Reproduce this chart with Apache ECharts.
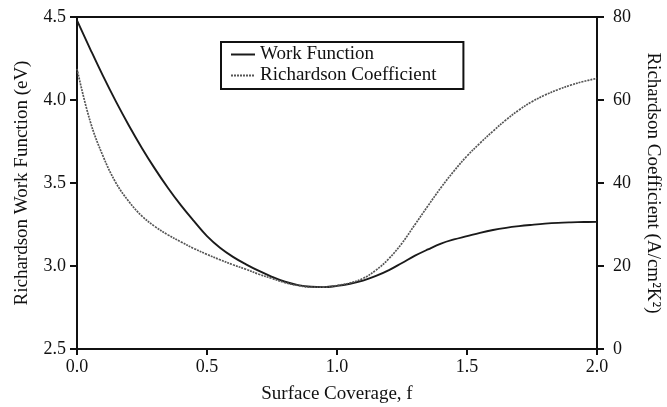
<!DOCTYPE html>
<html>
<head>
<meta charset="utf-8">
<script src="https://cdn.jsdelivr.net/npm/echarts@6/dist/echarts.min.js"></script>
<style>html,body{margin:0;padding:0;background:#fff;}#c{width:667px;height:407px;}</style>
</head>
<body>
<div id="c"></div>
<script>
var coverage = [0,0.05,0.1,0.15,0.2,0.25,0.3,0.35,0.4,0.45,0.5,0.55,0.6,0.65,0.7,0.75,0.8,0.85,0.9,0.95,1.0,1.05,1.1,1.15,1.2,1.25,1.3,1.35,1.4,1.45,1.5,1.55,1.6,1.65,1.7,1.75,1.8,1.85,1.9,1.95,2.0];
var workFunction = [4.48,4.31,4.145,3.99,3.845,3.71,3.585,3.47,3.365,3.27,3.18,3.11,3.055,3.01,2.97,2.935,2.905,2.885,2.875,2.873,2.88,2.893,2.912,2.94,2.975,3.018,3.062,3.10,3.135,3.16,3.18,3.20,3.217,3.23,3.24,3.248,3.255,3.26,3.263,3.265,3.266];
var richardson = [67.5,55,46.5,40,35.5,32,29.5,27.5,25.8,24.2,22.8,21.5,20.3,19.2,18.0,17.0,16.0,15.3,14.9,14.9,15.3,15.9,17.0,19.0,21.8,25.5,30,34.5,38.9,42.9,46.5,49.6,52.5,55.2,57.6,59.6,61.2,62.5,63.6,64.5,65.2];
var leftTicks = {min:2.5, max:4.5, interval:0.5};
var rightTicks = {min:0, max:80, interval:20};
var xTicks = {min:0, max:2, interval:0.5};

var font = 'Liberation Serif';
var wfData = coverage.map(function(f,i){return [f, workFunction[i]];});
var rcData = coverage.map(function(f,i){return [f, richardson[i]];});

var chart = echarts.init(document.getElementById('c'), null, {renderer:'canvas'});
chart.setOption({
  backgroundColor:'#fff',
  animation:false,
  textStyle:{fontFamily:font, color:'#111'},
  grid:{left:77, right:70, top:17, bottom:58, outerBoundsMode:'none', containLabel:false, show:true, borderColor:'#111', borderWidth:2, backgroundColor:'transparent'},
  legend:{
    left:221, top:42, orient:'vertical',
    data:['Work Function','Richardson Coefficient'],
    borderColor:'#111', borderWidth:2, borderRadius:0,
    padding:[3,27,4,9], itemGap:2, itemWidth:24, itemHeight:14,
    itemStyle:{opacity:0},
    textStyle:{fontFamily:font, fontSize:19, color:'#111'}
  },
  xAxis:{
    type:'value', min:xTicks.min, max:xTicks.max, interval:xTicks.interval,
    name:'Surface Coverage, f', nameLocation:'middle', nameGap:36,
    nameTextStyle:{fontFamily:font, fontSize:19, color:'#111'},
    axisLine:{show:true, lineStyle:{color:'#111', width:2}},
    axisTick:{show:true, length:6, lineStyle:{color:'#111', width:2}},
    axisLabel:{fontFamily:font, fontSize:18, color:'#111', margin:9, formatter:function(v){return v.toFixed(1);}},
    splitLine:{show:false}
  },
  yAxis:[{
    type:'value', position:'left', min:leftTicks.min, max:leftTicks.max, interval:leftTicks.interval,
    name:'Richardson Work Function (eV)', nameLocation:'middle', nameGap:45,
    nameTextStyle:{fontFamily:font, fontSize:19, color:'#111'},
    axisLine:{show:true, lineStyle:{color:'#111', width:2}},
    axisTick:{show:true, length:7, lineStyle:{color:'#111', width:2}},
    axisLabel:{fontFamily:font, fontSize:18, color:'#111', margin:11, formatter:function(v){return v.toFixed(1);}},
    splitLine:{show:false}
  },{
    type:'value', position:'right', min:rightTicks.min, max:rightTicks.max, interval:rightTicks.interval,
    name:'Richardson Coefficient (A/cm\u00b2K\u00b2)', nameLocation:'middle', nameGap:46, nameRotate:-90,
    nameTextStyle:{fontFamily:font, fontSize:19, color:'#111'},
    axisLine:{show:true, lineStyle:{color:'#111', width:2}},
    axisTick:{show:true, length:7, lineStyle:{color:'#111', width:2}},
    axisLabel:{fontFamily:font, fontSize:18, color:'#111', margin:16},
    splitLine:{show:false}
  }],
  series:[{
    name:'Work Function', type:'line', xAxisIndex:0, yAxisIndex:0,
    data:wfData, smooth:0.4, symbol:'none', showSymbol:false,
    lineStyle:{color:'#1a1a1a', width:1.9},
    itemStyle:{color:'#1a1a1a'}
  },{
    name:'Richardson Coefficient', type:'line', xAxisIndex:0, yAxisIndex:1,
    data:rcData, smooth:0.4, symbol:'none', showSymbol:false,
    lineStyle:{color:'#555', width:1.7, type:[2,1]},
    itemStyle:{color:'#555'}
  }]
});
</script>
</body>
</html>
